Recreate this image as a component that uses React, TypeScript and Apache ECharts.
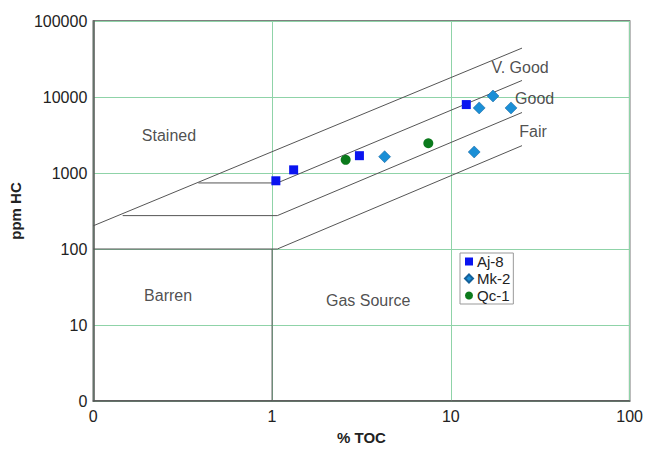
import React, { useEffect, useRef } from 'react';
import * as echarts from 'echarts';

// Sample data: [% TOC, ppm HC]
const aj8: number[][] = [[1.05, 790], [1.32, 1100], [3.08, 1690], [12.2, 7950]];
const mk2: number[][] = [[4.26, 1640], [14.4, 7180], [17.2, 10300], [21.7, 7180], [13.5, 1890]];
const qc1: number[][] = [[2.58, 1490], [7.48, 2460]];

// Zone boundaries
const stainedLine: number[][] = [[0.1, 202], [25, 44000]];
const vGoodLine: number[][] = [[0.387, 740], [1.07, 740], [25, 16500]];
const goodLine: number[][] = [[0.146, 275], [1.07, 275], [25, 6250]];
const fairLine: number[][] = [[1, 100], [1.07, 100], [25, 2290]];
const barrenBox: number[][] = [[0.1, 100], [1, 100], [1, 1]];

// Zone names
const zoneNames = ['Stained', 'V. Good', 'Good', 'Fair', 'Barren', 'Gas Source'];
const zoneAt: number[][] = [[0.265, 3160], [24.4, 24300], [29.4, 9700], [28.8, 3490], [0.262, 24.3], [3.45, 20.9]];

const seriesNames = ['Aj-8', 'Mk-2', 'Qc-1'];

const FONT = 'Liberation Sans, Arial, sans-serif';

export default function App() {
  const ref = useRef<HTMLDivElement>(null);
  useEffect(() => {
    if (!ref.current) return;
    const chart = echarts.init(ref.current, undefined, { renderer: 'svg' });
    const boundary = (data: number[][]) => ({
      type: 'line',
      data,
      symbol: 'none',
      silent: true,
      lineStyle: { color: '#555', width: 1 },
      z: 2,
      animation: false,
    });
    chart.setOption({
      animation: false,
      textStyle: { fontFamily: FONT },
      grid: {
        left: 88,
        right: 14,
        top: 21,
        bottom: 46,
        show: true,
        borderColor: '#555',
        borderWidth: 1.5,
        backgroundColor: 'transparent',
      },
      xAxis: {
        type: 'log',
        logBase: 10,
        min: 0.1,
        max: 100,
        name: '% TOC',
        nameLocation: 'middle',
        nameGap: 29,
        nameTextStyle: { fontSize: 15, fontWeight: 'bold', color: '#222', fontFamily: FONT },
        axisLine: { show: true, lineStyle: { color: '#555', width: 1.5 } },
        axisTick: { show: false },
        axisLabel: {
          fontSize: 16,
          color: '#222',
          margin: 7,
          fontFamily: FONT,
          formatter: (v: number) => (Math.abs(v - 0.1) < 1e-6 ? '0' : String(Math.round(v))),
        },
        splitLine: { show: true, lineStyle: { color: '#8fd3a8', width: 1 } },
      },
      yAxis: {
        type: 'log',
        logBase: 10,
        min: 1,
        max: 100000,
        name: 'ppm HC',
        nameLocation: 'middle',
        nameGap: 60,
        nameTextStyle: { fontSize: 15, fontWeight: 'bold', color: '#222', fontFamily: FONT },
        axisLine: { show: true, lineStyle: { color: '#555', width: 1.5 } },
        axisTick: { show: false },
        axisLabel: {
          fontSize: 16,
          color: '#222',
          margin: 6,
          fontFamily: FONT,
          formatter: (v: number) => (Math.abs(v - 1) < 1e-6 ? '0' : String(Math.round(v))),
        },
        splitLine: { show: true, lineStyle: { color: '#8fd3a8', width: 1 } },
      },
      legend: {
        data: [
          { name: seriesNames[0], icon: 'rect' },
          { name: seriesNames[1], icon: 'diamond' },
          { name: seriesNames[2], icon: 'circle' },
        ],
        orient: 'vertical',
        left: 460,
        top: 253,
        itemWidth: 8,
        itemHeight: 8,
        itemGap: 2,
        padding: [1, 3, 1, 4],
        borderColor: '#999',
        borderWidth: 1,
        backgroundColor: '#fff',
        textStyle: { fontSize: 15, color: '#222', fontFamily: FONT, padding: [0, 0, 0, -1] },
      },
      series: [
        boundary(stainedLine),
        boundary(vGoodLine),
        boundary(goodLine),
        boundary(fairLine),
        boundary(barrenBox),
        {
          type: 'scatter',
          data: zoneAt.map((p, i) => ({ value: p, name: zoneNames[i] })),
          symbolSize: 0,
          silent: true,
          label: {
            show: true,
            position: 'inside',
            formatter: (p: any) => p.name,
            fontSize: 16,
            color: '#222',
            fontFamily: FONT,
          },
          z: 3,
        },
        {
          name: seriesNames[0],
          type: 'scatter',
          data: aj8,
          symbol: 'rect',
          symbolSize: 9,
          itemStyle: { color: '#0a14f0', opacity: 1 },
          z: 5,
        },
        {
          name: seriesNames[1],
          type: 'scatter',
          data: mk2,
          symbol: 'diamond',
          symbolSize: 12,
          itemStyle: { color: '#1b8fd6', borderColor: '#14609a', borderWidth: 0.5, opacity: 1 },
          z: 5,
        },
        {
          name: seriesNames[2],
          type: 'scatter',
          data: qc1,
          symbol: 'circle',
          symbolSize: 10,
          itemStyle: { color: '#0b7a1c', opacity: 1 },
          z: 5,
        },
      ],
    });
    return () => chart.dispose();
  }, []);
  return (
    <div
      ref={ref}
      style={{ width: 646, height: 450, position: 'absolute', left: 0, top: 0, background: '#fff' }}
    />
  );
}
